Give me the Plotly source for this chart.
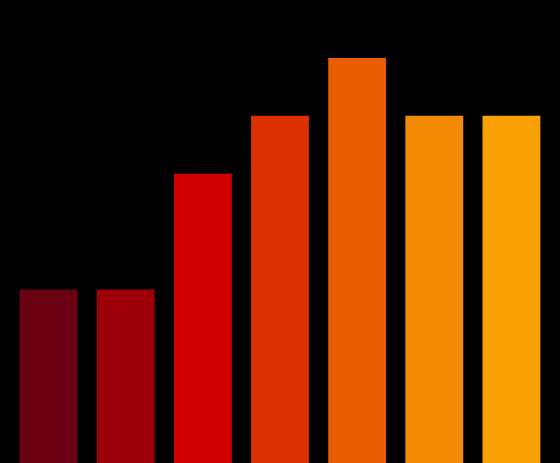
import plotly.graph_objects as go

categories = ["A", "B", "C", "D", "E", "F", "G"]
values = [3, 3, 5, 6, 7, 6, 6]
colors = ["#6a0012", "#9d0009", "#d00000", "#dc3000", "#e85d02", "#f28a03", "#f9a003"]

fig = go.Figure(go.Bar(x=categories, y=values, marker=dict(color=colors, line=dict(width=0))))
fig.update_layout(
    width=560, height=463,
    margin=dict(l=10, r=10, t=0, b=0),
    paper_bgcolor="black", plot_bgcolor="black",
    bargap=0.25, showlegend=False,
    xaxis=dict(visible=False),
    yaxis=dict(visible=False, range=[0, 8]),
)
# page has an 8px body margin by default, drop it so the chart fills the window
fig.write_html(
    "out.html",
    config={"displayModeBar": False},
    post_script="document.body.style.margin='0';document.body.style.background='black';"
                "document.body.style.overflow='hidden';",
)
